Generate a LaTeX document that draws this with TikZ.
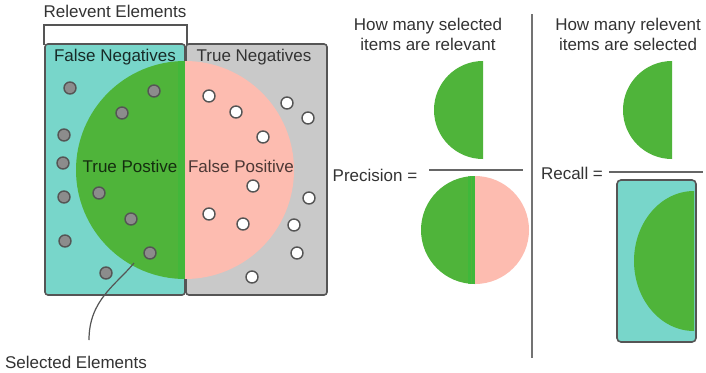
\documentclass[tikz,border=0pt]{standalone}
\usepackage{fontspec}
\setmainfont{Liberation Sans}
\definecolor{tealc}{HTML}{78D6CA}
\definecolor{greenc}{HTML}{4FB43A}
\definecolor{greenstripe}{HTML}{3FB83A}
\definecolor{pinkc}{HTML}{FDBCB0}
\definecolor{grayc}{HTML}{C9C9C9}
\definecolor{edgec}{HTML}{555555}
\definecolor{txtc}{HTML}{333333}
\definecolor{dotgray}{HTML}{8C8C8C}
\begin{document}
\begin{tikzpicture}[x=1pt,y=1pt,
  lbl/.style={font=\fontsize{17}{20}\selectfont, text=txtc, inner sep=0pt, align=center},
  boxedge/.style={draw=edgec, line width=1.6pt, rounded corners=3pt},
  gdot/.style={circle, fill=dotgray, draw=edgec, line width=1.4pt, minimum size=12pt, inner sep=0pt},
  wdot/.style={circle, fill=white, draw=edgec, line width=1.4pt, minimum size=12pt, inner sep=0pt},
  fracline/.style={draw=black!60, line width=1.6pt},
  leader/.style={draw=edgec, line width=1.2pt}]
\useasboundingbox (0,0) rectangle (706,-372);
\fill[white] (0,0) rectangle (706,-372);

% bracket "Relevent Elements"
\draw[draw=edgec, line width=1.5pt, fill=white] (44,-45) -- (44,-25) -- (187,-25) -- (187,-45);
\node[lbl] (relel) at (115,-11) {Relevent Elements};

% boxes
\path[boxedge, fill=tealc] (45,-44) rectangle (185,-295);
\path[boxedge, fill=grayc] (186,-44) rectangle (327,-295);
\coordinate (boxL) at (115,-170);
\coordinate (boxR) at (256,-170);

% selected circle
\fill[greenc] (185,-61) arc[start angle=90, end angle=270, radius=109pt] -- cycle;
\fill[pinkc] (185,-279) arc[start angle=270, end angle=450, radius=109pt] -- cycle;
\begin{scope}
\clip (185,-170) circle[radius=109pt];
\fill[greenstripe!80!greenc] (178,-50) rectangle (185,-290);
\end{scope}

% labels in box
\node[lbl, text=black!80!tealc] (fn) at (115,-57) {False Negatives};
\node[lbl] (tn) at (254,-57) {True Negatives};
\node[lbl, text=black!75!greenc] (tp) at (130,-166) {True Postive};
\node[lbl, text=black!70!pinkc] (fp) at (241,-166) {False Positive};

% grey dots
\node[gdot] (g1) at (70,-88) {};
\node[gdot] (g2) at (154,-91) {};
\node[gdot] (g3) at (122,-113) {};
\node[gdot] (g4) at (64,-135) {};
\node[gdot] (g5) at (63,-163) {};
\node[gdot] (g6) at (64,-197) {};
\node[gdot] (g7) at (99,-193) {};
\node[gdot] (g8) at (131,-219) {};
\node[gdot] (g9) at (65,-241) {};
\node[gdot] (g10) at (150,-253) {};
\node[gdot] (g11) at (106,-273) {};

% white dots
\node[wdot] (w1) at (209,-96) {};
\node[wdot] (w2) at (236,-112) {};
\node[wdot] (w3) at (287,-103) {};
\node[wdot] (w4) at (308,-118) {};
\node[wdot] (w5) at (263,-137) {};
\node[wdot] (w6) at (253,-186) {};
\node[wdot] (w7) at (309,-198) {};
\node[wdot] (w8) at (209,-214) {};
\node[wdot] (w9) at (243,-224) {};
\node[wdot] (w10) at (294,-225) {};
\node[wdot] (w11) at (297,-253) {};
\node[wdot] (w12) at (252,-277) {};

% callout
\coordinate (cstart) at (134,-263);
\coordinate (cend) at (89,-340);
\draw[leader] (cstart) .. controls (116,-285) and (89,-300) .. (cend);
\node[lbl] (selel) at (76,-362) {Selected Elements};

% divider
\coordinate (dtop) at (532,-14);
\coordinate (dbot) at (532,-358);
\draw[draw=black!55, line width=2pt] (dtop) -- (dbot);

% precision
\node[lbl] (ptitle) at (428,-34) {How many selected\\items are relevant};
\fill[greenc] (483,-61) arc[start angle=90, end angle=270, radius=49pt] -- cycle;
\coordinate (pl1) at (429,-170);
\coordinate (pl2) at (523,-170);
\draw[fracline] (pl1) -- (pl2);
\node[lbl] (prec) at (375,-175) {Precision =};
\fill[greenc] (475,-176) arc[start angle=90, end angle=270, radius=54pt] -- cycle;
\fill[pinkc] (475,-284) arc[start angle=270, end angle=450, radius=54pt] -- cycle;
\begin{scope}
\clip (475,-230) circle[radius=54pt];
\fill[greenstripe] (468,-170) rectangle (475,-290);
\fill[greenc] (470.5,-170) rectangle (472,-290);
\end{scope}

% recall
\node[lbl] (rtitle) at (628,-34) {How many relevent\\items are selected};
\fill[greenc] (672,-61) arc[start angle=90, end angle=270, radius=49pt] -- cycle;
\coordinate (rl1) at (609,-172);
\coordinate (rl2) at (703,-172);
\draw[fracline] (rl1) -- (rl2);
\node[lbl] (rec) at (572,-173) {Recall =};
\path[fill=tealc, rounded corners=4pt] (617,-180) rectangle (696,-342);
\fill[greenc] (694,-191) arc[start angle=90, end angle=270, x radius=60pt, y radius=70pt] -- cycle;
\path[boxedge, rounded corners=4pt] (617,-180) rectangle (696,-342);
\end{tikzpicture}
\end{document}
